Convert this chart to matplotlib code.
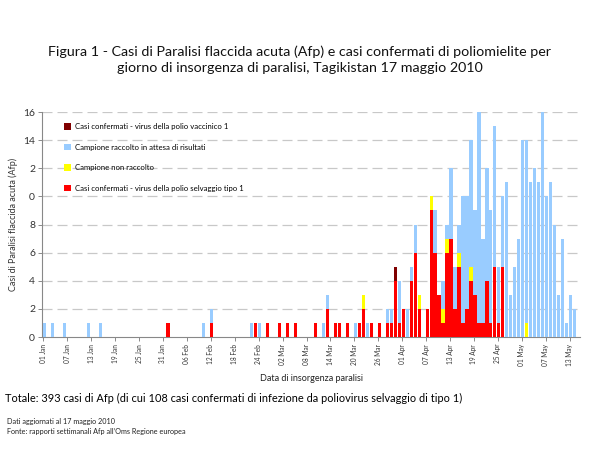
import matplotlib
matplotlib.use("Agg")
import matplotlib.pyplot as plt
from matplotlib.patches import Patch
import numpy as np

# Day index 0 = 01 Jan 2010 ... 133 = 14 May 2010
N_DAYS = 134

# Counts per day, given as {day_index: count}
selvaggio_tipo1 = {31: 1, 42: 1, 53: 1, 56: 1, 59: 1, 61: 1, 63: 1, 68: 1, 71: 2, 73: 1,
                   74: 1, 76: 1, 79: 1, 80: 2, 82: 1, 84: 1, 86: 1, 87: 1, 88: 4, 89: 1,
                   90: 2, 92: 4, 93: 6, 94: 2, 96: 2, 97: 9, 98: 6, 99: 3, 100: 1, 101: 6,
                   102: 7, 103: 2, 104: 5, 105: 1, 106: 2, 107: 4, 108: 3, 109: 1, 110: 1,
                   111: 4, 112: 1, 113: 5, 114: 1, 115: 5}
vaccinico_1 = {88: 1}
non_raccolto = {80: 1, 94: 1, 97: 1, 100: 1, 101: 1, 104: 1, 107: 1, 121: 1}
in_attesa = {0: 1, 2: 1, 5: 1, 11: 1, 14: 1, 40: 1, 42: 1, 52: 1, 54: 1, 70: 1, 71: 1,
             78: 1, 81: 1, 86: 1, 87: 1, 89: 3, 91: 2, 92: 1, 93: 2, 98: 3, 100: 2,
             101: 1, 102: 5, 103: 3, 104: 2, 105: 9, 106: 8, 107: 9, 108: 6, 109: 15,
             110: 6, 111: 8, 112: 8, 113: 10, 114: 4, 115: 5, 116: 11, 117: 3, 118: 5,
             119: 7, 120: 14, 121: 13, 122: 11, 123: 12, 124: 11, 125: 16, 126: 10,
             127: 11, 128: 8, 129: 3, 130: 7, 131: 1, 132: 3, 133: 2}

tick_days = list(range(0, 133, 6))
tick_labels = ["01 Jan", "07 Jan", "13 Jan", "19 Jan", "25 Jan", "31 Jan", "06 Feb",
               "12 Feb", "18 Feb", "24 Feb", "02 Mar", "08 Mar", "14 Mar", "20 Mar",
               "26 Mar", "01 Apr", "07 Apr", "13 Apr", "19 Apr", "25 Apr", "01 May",
               "07 May", "13 May"]
y_ticks = [0, 2, 4, 6, 8, 10, 12, 14, 16]
y_tick_labels = ["0", "2", "4", "6", "8", "0", "2", "14", "16"]

series = [
    ("Casi confermati - virus della polio selvaggio tipo 1", selvaggio_tipo1, "#ff0000"),
    ("Casi confermati - virus della polio vaccinico 1", vaccinico_1, "#800000"),
    ("Campione non raccolto", non_raccolto, "#ffff00"),
    ("Campione raccolto in attesa di risultati", in_attesa, "#99ccff"),
]

plt.rcParams['font.family'] = ['Lato', 'DejaVu Sans']

fig = plt.figure(figsize=(6, 4.5), dpi=100)
ax = fig.add_axes([0.07, 0.251, 0.897, 0.5])

days = np.arange(N_DAYS)
bottom = np.zeros(N_DAYS)
for name, d, col in series:
    vals = np.array([d.get(i, 0) for i in days], dtype=float)
    ax.bar(days, vals, width=0.8, bottom=bottom, color=col, linewidth=0, zorder=3)
    bottom += vals

ax.set_xlim(-0.6, 134.4)
ax.set_ylim(0, 16)
ax.set_yticks(y_ticks)
ax.set_yticklabels(y_tick_labels, fontsize=7.5, color="#333333")
ax.set_xticks([t - 0.25 for t in tick_days])
ax.set_xticklabels(tick_labels, rotation=90, fontsize=4.7, color="#333333")
ax.tick_params(axis='x', length=3, width=0.6, color="#777777", pad=2)
ax.tick_params(axis='y', length=3, width=0.6, color="#777777", pad=2)

for y in y_ticks[1:]:
    ax.axhline(y, color="#c8c8c8", lw=0.9, dashes=(8, 4), zorder=1)

for s in ["top", "right"]:
    ax.spines[s].set_visible(False)
for s in ["left", "bottom"]:
    ax.spines[s].set_color("#888888")
    ax.spines[s].set_linewidth(0.8)

ax.set_ylabel("Casi di Paralisi flaccida acuta (Afp)", fontsize=6.5, color="#333333")
ax.yaxis.set_label_coords(-0.045, 0.5)
ax.set_xlabel("Data di insorgenza paralisi", fontsize=6.5, color="#222222", labelpad=6)

legend_order = [series[1], series[3], series[2], series[0]]
handles = [Patch(facecolor=c, edgecolor='none') for _, _, c in legend_order]
labels = [n for n, _, _ in legend_order]
ax.legend(handles, labels, loc="upper left", bbox_to_anchor=(0.035, 0.965), frameon=False,
          fontsize=5.6, handlelength=0.9, handleheight=0.9, handletextpad=0.5,
          labelspacing=1.75, borderaxespad=0)

fig.text(0.5, 0.885, "Figura 1 - Casi di Paralisi flaccida acuta (Afp) e casi confermati di poliomielite per",
         ha="center", va="center", fontsize=10.3, color="#111111")
fig.text(0.5, 0.848, "giorno di insorgenza di paralisi, Tagikistan 17 maggio 2010",
         ha="center", va="center", fontsize=10.3, color="#111111")

fig.text(0.008, 0.115, "Totale: 393 casi di Afp (di cui 108 casi confermati di infezione da poliovirus selvaggio di tipo 1)",
         ha="left", va="center", fontsize=7.9, color="#000000")
fig.text(0.012, 0.064, "Dati aggiornati al 17 maggio 2010", ha="left", va="center", fontsize=5.2, color="#222222")
fig.text(0.012, 0.042, "Fonte: rapporti settimanali Afp all\u2019Oms Regione europea", ha="left", va="center",
         fontsize=5.2, color="#222222")

fig.savefig("out.png", dpi=100, facecolor="white")
